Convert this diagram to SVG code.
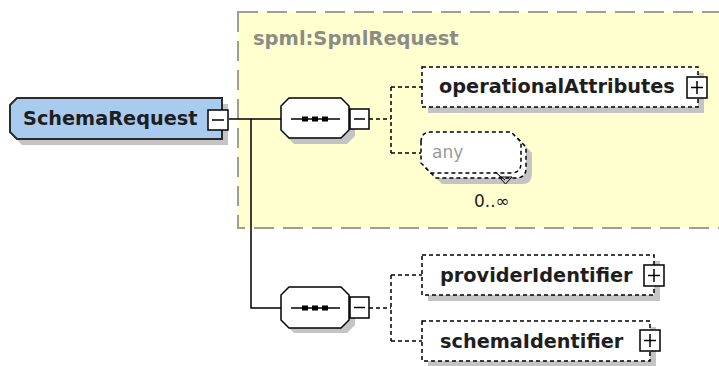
<svg xmlns="http://www.w3.org/2000/svg" width="719" height="366" viewBox="0 0 719 366">
<defs>
<style>
.t{font-family:"DejaVu Sans","Liberation Sans",sans-serif;font-weight:bold;font-size:19.3px;fill:#1e1e1e}
.g{font-family:"DejaVu Sans","Liberation Sans",sans-serif;font-weight:bold;font-size:19.5px;fill:#8c8c84}
.r{font-family:"DejaVu Sans","Liberation Sans",sans-serif;font-size:17px}
.sh{fill:#c4c4c4}
.opt{fill:#fff;stroke:#000;stroke-width:1.5;stroke-dasharray:4 3}
.solid{fill:#fff;stroke:#000;stroke-width:1.5}
.pm{fill:#fff;stroke:#000;stroke-width:1.5}
.c{fill:none;stroke:#000;stroke-width:1.5}
.cd{fill:none;stroke:#000;stroke-width:1.5;stroke-dasharray:4 3}
</style>
</defs>
<rect width="719" height="366" fill="#fff"/>
<g id="spmlRequest">
<rect x="238" y="12" width="490" height="216" fill="#ffffd0" stroke="#a09f90" stroke-width="2" stroke-dasharray="20 9"/>
<text class="g" x="253" y="45">spml:SpmlRequest</text>
</g>
<g id="connectors">
<path class="c" d="M229,119 H281 M251,119 V308 H281"/>
<path class="cd" d="M369,119 H391 M391,87 V153 M391,87 H422 M391,153 H421"/>
<path class="cd" d="M369,308 H391 M391,275 V341 M391,275 H422 M391,341 H422"/>
</g>
<g id="SchemaRequest">
<path class="sh" d="M22,104 H228 V145 H22 L16,139 V110 Z"/>
<path d="M17,98 H222 V139 H17 L10,132 V105 Z" fill="#a9cbef" stroke="#2a2a2a" stroke-width="2"/>
<text class="t" x="23" y="125">SchemaRequest</text>
<rect class="pm" x="208" y="110" width="20" height="20"/>
<path class="c" d="M212,120 H224"/>
</g>
<g id="sequence1">
<path class="sh" d="M294,104 H347 L355,112 V136 L347,144 H294 L286,136 V112 Z"/>
<path class="solid" d="M289,98 H341 L349,106 V130 L341,138 H289 L281,130 V106 Z"/>
<path class="c" d="M291,119 H340"/>
<rect x="302" y="116.5" width="6" height="5"/><rect x="312" y="116.5" width="6" height="5"/><rect x="322" y="116.5" width="6" height="5"/>
<rect class="pm" x="350" y="109" width="19" height="20"/>
<path class="c" d="M354,119 H365"/>
</g>
<g id="operationalAttributes">
<rect class="sh" x="428" y="73" width="276" height="40"/>
<rect class="opt" x="422" y="67" width="276" height="40"/>
<text class="t" x="439" y="93">operationalAttributes</text>
<rect class="pm" x="687" y="77" width="20" height="21"/>
<path class="c" d="M691,87.5 H703 M697,81 V94"/>
</g>
<g id="any">
<path class="sh" d="M432,143 H522 L532,153 V174 Q532,184 522,184 H442 L432,174 Z"/>
<path class="opt" d="M426,147 Q426,137 436,137 H516 L526,147 V168 Q526,178 516,178 H436 L426,168 Z"/>
<path class="opt" d="M421,142 Q421,132 431,132 H511 L521,142 V163 Q521,173 511,173 H431 L421,163 Z"/>
<text class="r" x="432" y="158" fill="#9a9a9a">any</text>
<path d="M495,172 L505,180 M499,177 H512 L505.5,184 Z" fill="none" stroke="#000" stroke-width="1"/>
<text class="r" x="474" y="207" fill="#1e1e1e">0..∞</text>
</g>
<g id="sequence2">
<path class="sh" d="M294,293 H347 L355,301 V325 L347,333 H294 L286,325 V301 Z"/>
<path class="solid" d="M289,287 H341 L349,295 V320 L341,328 H289 L281,320 V295 Z"/>
<path class="c" d="M291,308 H340"/>
<rect x="302" y="305.5" width="6" height="5"/><rect x="312" y="305.5" width="6" height="5"/><rect x="322" y="305.5" width="6" height="5"/>
<rect class="pm" x="350" y="297" width="19" height="21"/>
<path class="c" d="M354,307.5 H365"/>
</g>
<g id="providerIdentifier">
<rect class="sh" x="428" y="261" width="232" height="40"/>
<rect class="opt" x="422" y="255" width="232" height="40"/>
<text class="t" x="440" y="282">providerIdentifier</text>
<rect class="pm" x="644" y="265" width="20" height="21"/>
<path class="c" d="M648,275.5 H660 M654,269 V282"/>
</g>
<g id="schemaIdentifier">
<rect class="sh" x="428" y="327" width="228" height="40"/>
<rect class="opt" x="422" y="321" width="228" height="40"/>
<text class="t" x="440" y="348">schemaIdentifier</text>
<rect class="pm" x="640" y="330" width="20" height="21"/>
<path class="c" d="M644,340.5 H656 M650,334 V347"/>
</g>
</svg>
